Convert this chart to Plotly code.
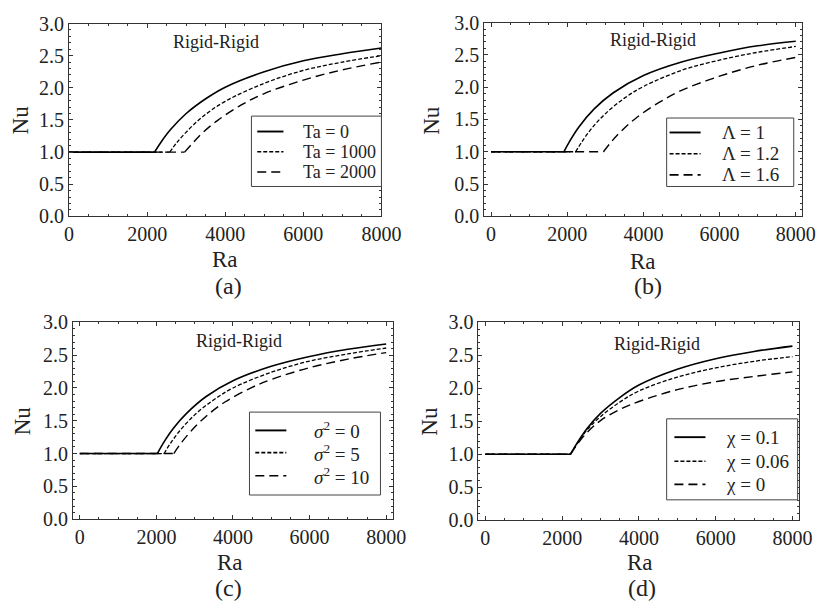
import plotly.graph_objects as go

W, H = 838, 614

# ---- data: Rayleigh number vs Nusselt number (first point = start, second = onset) ----
# (a) Taylor number
ra_a1 = [0, 2190, 2350, 2600, 3000, 3500, 4000, 5000, 6000, 7000, 8000]
nu_a1 = [1.0, 1.0, 1.15, 1.35, 1.60, 1.83, 2.01, 2.25, 2.42, 2.53, 2.62]
ra_a2 = [0, 2580, 2750, 3000, 3400, 4000, 5000, 6000, 7000, 8000]
nu_a2 = [1.0, 1.0, 1.14, 1.31, 1.54, 1.79, 2.07, 2.27, 2.40, 2.50]
ra_a3 = [0, 2960, 3150, 3400, 3800, 4400, 5000, 6000, 7000, 8000]
nu_a3 = [1.0, 1.0, 1.13, 1.29, 1.49, 1.73, 1.91, 2.12, 2.28, 2.40]
labels_a = ["Ta = 0", "Ta = 1000", "Ta = 2000"]

# (b) Lambda
ra_b1 = [0, 1910, 2050, 2300, 2700, 3200, 4000, 5000, 6000, 7000, 8000]
nu_b1 = [1.0, 1.0, 1.15, 1.38, 1.66, 1.91, 2.18, 2.39, 2.53, 2.64, 2.71]
ra_b2 = [0, 2220, 2380, 2650, 3000, 3500, 4000, 5000, 6000, 7000, 8000]
nu_b2 = [1.0, 1.0, 1.15, 1.37, 1.59, 1.83, 2.01, 2.26, 2.42, 2.54, 2.63]
ra_b3 = [0, 2950, 3150, 3400, 3800, 4400, 5000, 6000, 7000, 8000]
nu_b3 = [1.0, 1.0, 1.15, 1.31, 1.52, 1.76, 1.95, 2.17, 2.34, 2.46]
labels_b = ["\u039b = 1", "\u039b = 1.2", "\u039b = 1.6"]

# (c) sigma^2
ra_c1 = [0, 2025, 2180, 2450, 2800, 3300, 4000, 5000, 6000, 7000, 8000]
nu_c1 = [1.0, 1.0, 1.16, 1.39, 1.62, 1.87, 2.11, 2.33, 2.48, 2.59, 2.67]
ra_c2 = [0, 2200, 2350, 2600, 3000, 3500, 4000, 5000, 6000, 7000, 8000]
nu_c2 = [1.0, 1.0, 1.14, 1.34, 1.59, 1.82, 2.00, 2.24, 2.41, 2.52, 2.61]
ra_c3 = [0, 2455, 2620, 2900, 3300, 3800, 4500, 5000, 6000, 7000, 8000]
nu_c3 = [1.0, 1.0, 1.14, 1.34, 1.57, 1.79, 2.01, 2.13, 2.31, 2.44, 2.54]
labels_c = ["<i>\u03c3</i><sup>2</sup> = 0", "<i>\u03c3</i><sup>2</sup> = 5",
            "<i>\u03c3</i><sup>2</sup> = 10"]

# (d) chi
ra_d1 = [0, 2220, 2380, 2650, 3000, 3500, 4000, 5000, 6000, 7000, 8000]
nu_d1 = [1.0, 1.0, 1.16, 1.39, 1.62, 1.86, 2.05, 2.29, 2.45, 2.56, 2.64]
ra_d2 = [0, 2220, 2380, 2650, 3000, 3500, 4000, 5000, 6000, 7000, 8000]
nu_d2 = [1.0, 1.0, 1.15, 1.37, 1.57, 1.79, 1.96, 2.17, 2.31, 2.41, 2.48]
ra_d3 = [0, 2220, 2380, 2650, 3000, 3500, 4000, 5000, 6000, 7000, 8000]
nu_d3 = [1.0, 1.0, 1.14, 1.33, 1.51, 1.68, 1.80, 1.98, 2.10, 2.18, 2.25]
labels_d = ["\u03c7 = 0.1", "\u03c7 = 0.06", "\u03c7 = 0"]

panel_tags = ["(a)", "(b)", "(c)", "(d)"]
x_ticks = [0, 2000, 4000, 6000, 8000]
y_ticks = [0.0, 0.5, 1.0, 1.5, 2.0, 2.5, 3.0]

# ---- styling ----
FONT = "Liberation Serif, Times New Roman, serif"
INK = "#222222"
DASHES = ["solid", "4px,2px", "9px,5px"]
LINE_W = [1.6, 1.3, 1.4]


def px(x):
    return x / W


def py(y):
    return 1 - y / H


panels = [
    # frame (left, right, top, bottom) in px, x range, curves, legend layout, text spots
    dict(frame=(66, 388, 13, 213), xr=[0, 8000],
         curves=[(ra_a1, nu_a1), (ra_a2, nu_a2), (ra_a3, nu_a3)], labels=labels_a,
         box=(254, 388, 109, 182), sample=(260, 287), text_x=306, rows=[125, 146, 167],
         fs=18, rigid=(218, 32), nu=(16, 113), ra=(227, 258), tag=(230, 285)),
    dict(frame=(494, 821, 12, 213), xr=[-180, 8150],
         curves=[(ra_b1, nu_b1), (ra_b2, nu_b2), (ra_b3, nu_b3)], labels=labels_b,
         box=(682, 813, 111, 182), sample=(685, 717), text_x=738, rows=[126, 148, 170],
         fs=19, rigid=(668, 30), nu=(440, 113), ra=(658, 260), tag=(663, 285)),
    dict(frame=(70, 400, 323, 527), xr=[-180, 8180],
         curves=[(ra_c1, nu_c1), (ra_c2, nu_c2), (ra_c3, nu_c3)], labels=labels_c,
         box=(252, 387, 416, 502), sample=(258, 290), text_x=317, rows=[435, 458, 482],
         fs=19, rigid=(241, 342), nu=(18, 425), ra=(232, 572), tag=(230, 598)),
    dict(frame=(488, 818, 323, 528), xr=[-180, 8160],
         curves=[(ra_d1, nu_d1), (ra_d2, nu_d2), (ra_d3, nu_d3)], labels=labels_d,
         box=(682, 817, 423, 507), sample=(690, 722), text_x=742, rows=[442, 467, 491],
         fs=19, rigid=(672, 345), nu=(438, 425), ra=(655, 572), tag=(657, 598)),
]

fig = go.Figure()
shapes = []
annotations = []

for i, p in enumerate(panels):
    n = "" if i == 0 else str(i + 1)
    xa, ya = "x" + n, "y" + n
    for k, (ra, nu) in enumerate(p["curves"]):
        style = dict(color="black", width=LINE_W[k], dash=DASHES[k])
        # flat conduction branch up to onset
        fig.add_trace(go.Scatter(x=ra[:2], y=nu[:2], mode="lines", line=style,
                                 xaxis=xa, yaxis=ya, showlegend=False, hoverinfo="skip"))
        # convective branch beyond onset
        fig.add_trace(go.Scatter(x=ra[1:], y=nu[1:], mode="lines",
                                 line=dict(**style, shape="spline", smoothing=1.0),
                                 xaxis=xa, yaxis=ya, name=p["labels"][k], showlegend=False))

    l, r, t, b = p["frame"]
    axis_common = dict(
        showline=True, linecolor="#333333", linewidth=1, mirror="allticks",
        ticks="inside", ticklen=4, tickwidth=1, tickcolor="#333333",
        showgrid=False, zeroline=False,
        tickfont=dict(family=FONT, size=20, color=INK),
    )
    fig.layout["xaxis" + n] = dict(
        axis_common, domain=[px(l), px(r)], range=p["xr"], anchor=ya,
        tickvals=x_ticks,
        minor=dict(dtick=500, tick0=0, ticks="inside", ticklen=2, tickcolor="#333333",
                   showgrid=False),
    )
    fig.layout["yaxis" + n] = dict(
        axis_common, domain=[py(b), py(t)], range=[0, 3], anchor=xa,
        tickvals=y_ticks, tickformat=".1f",
        minor=dict(dtick=0.1, tick0=0, ticks="inside", ticklen=2, tickcolor="#333333",
                   showgrid=False),
    )

    # legend box
    bl, br, bt, bb = p["box"]
    shapes.append(dict(type="rect", xref="paper", yref="paper",
                       x0=px(bl), x1=px(br), y0=py(bb), y1=py(bt),
                       line=dict(color="#444444", width=1), fillcolor="white"))
    s0, s1 = p["sample"]
    for k, row in enumerate(p["rows"]):
        shapes.append(dict(type="line", xref="paper", yref="paper",
                           x0=px(s0), x1=px(s1), y0=py(row), y1=py(row),
                           line=dict(color="black", width=LINE_W[k] + 0.3, dash=DASHES[k])))
        annotations.append(dict(text=p["labels"][k], xref="paper", yref="paper",
                                x=px(p["text_x"]), y=py(row), xanchor="left", yanchor="middle",
                                borderpad=0, showarrow=False,
                                font=dict(family=FONT, size=p["fs"], color=INK)))

    rx, ry = p["rigid"]
    annotations.append(dict(text="Rigid-Rigid", xref="paper", yref="paper", x=px(rx), y=py(ry),
                            xanchor="center", yanchor="middle", showarrow=False,
                            font=dict(family=FONT, size=18, color=INK)))
    nx, ny = p["nu"]
    annotations.append(dict(text="Nu", xref="paper", yref="paper", x=px(nx), y=py(ny),
                            xanchor="center", yanchor="middle", showarrow=False, textangle=-90,
                            font=dict(family=FONT, size=23, color=INK)))
    ax_, ay_ = p["ra"]
    annotations.append(dict(text="Ra", xref="paper", yref="paper", x=px(ax_), y=py(ay_),
                            xanchor="center", yanchor="middle", showarrow=False,
                            font=dict(family=FONT, size=23, color=INK)))
    tx, ty = p["tag"]
    annotations.append(dict(text=panel_tags[i], xref="paper", yref="paper", x=px(tx), y=py(ty),
                            xanchor="center", yanchor="middle", showarrow=False,
                            font=dict(family=FONT, size=24, color=INK)))

fig.update_layout(
    width=W, height=H, margin=dict(l=0, r=0, t=0, b=0),
    paper_bgcolor="white", plot_bgcolor="white",
    showlegend=False, shapes=shapes, annotations=annotations,
)

fig.write_html("out.html")
